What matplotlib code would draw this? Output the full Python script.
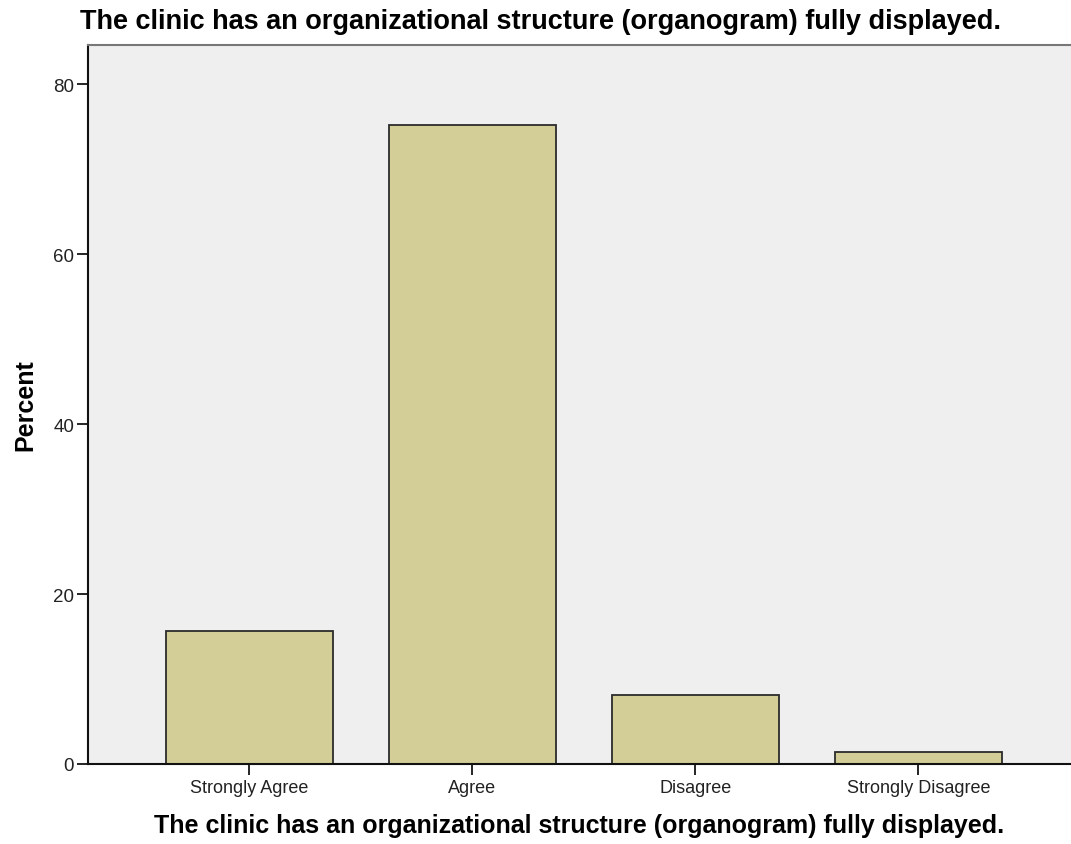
import numpy as np
from matplotlib import pyplot as plt

categories = ["Strongly Agree", "Agree", "Disagree", "Strongly Disagree"]
percent = [15.6, 75.2, 8.1, 1.4]
yticks = [0, 20, 40, 60, 80]
title = "The clinic has an organizational structure (organogram) fully displayed."

plt.rcParams['font.family'] = ['Liberation Sans', 'DejaVu Sans']

fig = plt.figure(figsize=(10.71, 8.45), dpi=100)
ax = fig.add_axes([88/1071, 80/845, 983/1071, 719/845])
ax.set_facecolor("#efefef")

x = np.arange(len(categories))
ax.bar(x, percent, width=0.75, color="#d3ce97", edgecolor="#2b2b2b", linewidth=1.3, zorder=2)

ax.set_xlim(-0.724, 3.684)
ax.set_ylim(0, 84.6)
ax.set_yticks(yticks)
ax.set_xticks(x)
ax.set_xticklabels(categories, fontsize=13, color="#222222")
ax.tick_params(axis="y", labelsize=13.5, labelcolor="#222222", length=8, width=1.2, pad=2)
ax.tick_params(axis="x", length=8, width=1.2, pad=3)

for s in ["left", "bottom"]:
    ax.spines[s].set_linewidth(1.5)
    ax.spines[s].set_color("#111111")
ax.spines["top"].set_color("#777777")
ax.spines["top"].set_linewidth(1.5)
ax.spines["right"].set_visible(False)

ax.set_ylabel("Percent", fontsize=18, fontweight="bold", labelpad=11)
ax.set_xlabel(title, fontsize=18, fontweight="bold", labelpad=12)
fig.text(540/1071, 1 - 22/845, title, fontsize=19.5, fontweight="bold", ha="center", va="center")

fig.savefig("out.png", dpi=100)
